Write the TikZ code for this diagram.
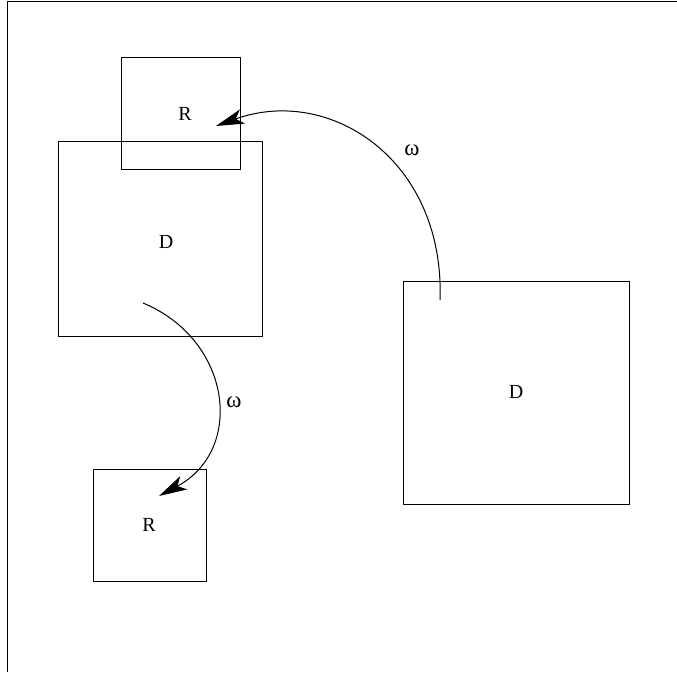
\documentclass[tikz,border=0pt]{standalone}
\usepackage{fontspec}
\setmainfont{Liberation Serif}
\usetikzlibrary{arrows.meta}
\begin{document}
\begin{tikzpicture}[x=1pt,y=-1pt,
  box/.style={draw,line width=0.9pt},
  lbl/.style={font=\fontsize{20}{24}\selectfont},
  om/.style={font=\fontsize{23}{26}\selectfont},
  arc/.style={line width=1pt,-{Stealth[length=28pt,width=15pt,inset=7pt]}}]
\useasboundingbox (0,0) rectangle (677,672);
\draw[line width=1pt] (677,1) -- (7,1) -- (7,672);
\draw[box] (121,57) rectangle (240,169);
\draw[box] (58,141) rectangle (262,336);
\draw[box] (403,281) rectangle (629,504);
\draw[box] (93,469) rectangle (206,581);
\node[lbl] (r1) at (185,114) {R};
\node[lbl] (d1) at (166,242) {D};
\node[lbl] (d2) at (516,392) {D};
\node[lbl] (r2) at (149,525) {R};
\coordinate (a1s) at (440,300);
\coordinate (a1e) at (216,126);
\coordinate (a2s) at (143,303);
\coordinate (a2e) at (159,496);
\draw[arc] (a1s) .. controls (445,160) and (330,85) .. (a1e);
\draw[arc] (a2s) .. controls (232,340) and (245,450) .. (a2e);
\node[om] (w1) at (412,150) {ω};
\node[om] (w2) at (234,402) {ω};
\end{tikzpicture}
\end{document}
